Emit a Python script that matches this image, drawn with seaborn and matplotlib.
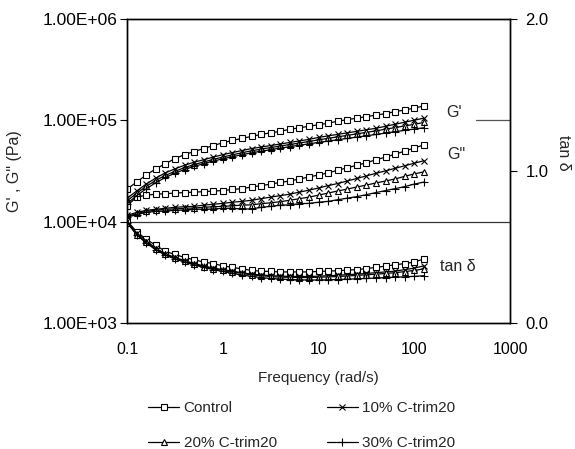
import matplotlib
matplotlib.use("Agg")
import matplotlib.pyplot as plt
import matplotlib.ticker as mticker
import seaborn as sns
import pandas as pd

sns.set_style("white")
plt.rcParams['font.family'] = ['Liberation Sans', 'DejaVu Sans']

freq = [0.1, 0.126, 0.158, 0.2, 0.251, 0.316, 0.398, 0.501, 0.631, 0.794,
        1.0, 1.26, 1.58, 2.0, 2.51, 3.16, 3.98, 5.01, 6.31, 7.94,
        10.0, 12.6, 15.8, 20.0, 25.1, 31.6, 39.8, 50.1, 63.1, 79.4, 100.0, 126.0]

series_names = ["Control", "10% C-trim20", "20% C-trim20", "30% C-trim20"]

g1_control = [20900, 24500, 28800, 33100, 37200, 41700, 45700, 49000, 52500, 56200,
              59800, 63100, 66100, 69200, 72400, 75000, 77600, 81300, 84100, 87100,
              90200, 93300, 97700, 101200, 104700, 108400, 112200, 116100, 121600, 125900, 131800, 138000]
g1_10 = [17000, 20000, 23400, 26900, 30200, 33100, 35900, 38500, 40700, 43200,
         45700, 47900, 50100, 52500, 54300, 56200, 58200, 60300, 62400, 64600,
         67600, 70000, 72400, 75000, 77600, 80400, 83200, 87100, 91200, 95500, 100000, 104700]
g1_20 = [16000, 19000, 22200, 25500, 28500, 31300, 34000, 36500, 38700, 41000,
         43300, 45500, 47700, 49900, 51800, 53700, 55600, 57500, 59500, 61600,
         64000, 66200, 68500, 70800, 73300, 75800, 78500, 81500, 84500, 87800, 91000, 95000]
g1_30 = [15000, 18000, 21000, 24200, 27200, 30000, 32600, 35000, 37200, 39400,
         41600, 43600, 45600, 47600, 49400, 51200, 53000, 54800, 56600, 58400,
         60300, 62200, 64100, 66100, 68100, 70200, 72300, 74600, 77000, 79400, 81800, 84200]

g2_control = [14300, 17400, 18200, 18600, 18800, 19100, 19300, 19500, 19700, 20000,
              20200, 20700, 21100, 21900, 22600, 23400, 24300, 25100, 26300, 27500,
              28800, 30200, 32000, 33900, 35900, 38000, 40700, 43200, 46200, 49500, 53100, 57100]
g2_10 = [11500, 12300, 12900, 13200, 13500, 13800, 14000, 14100, 14500, 14800,
         15100, 15500, 15800, 16200, 16800, 17400, 18000, 18600, 19500, 20400,
         21400, 22600, 23700, 25100, 26600, 28200, 29900, 31600, 33500, 35500, 37600, 39800]
g2_20 = [11200, 12000, 12600, 12900, 13200, 13300, 13500, 13600, 13800, 14000,
         14100, 14300, 14500, 14600, 15000, 15300, 15700, 16200, 16800, 17400,
         18200, 19100, 20000, 20900, 21900, 22900, 24000, 25100, 26300, 27900, 29500, 30900]
g2_30 = [11000, 11700, 12300, 12600, 12700, 12900, 13000, 13200, 13200, 13300,
         13500, 13500, 13300, 13300, 13800, 14100, 14500, 14600, 15000, 15100,
         15500, 15800, 16400, 17000, 17600, 18400, 19300, 20200, 21100, 22100, 23400, 24500]

tan_control = [0.67, 0.60, 0.55, 0.51, 0.47, 0.45, 0.43, 0.415, 0.40, 0.39,
               0.375, 0.365, 0.355, 0.345, 0.34, 0.338, 0.335, 0.335, 0.335, 0.335,
               0.338, 0.34, 0.343, 0.347, 0.35, 0.357, 0.365, 0.373, 0.382, 0.39, 0.40, 0.42]
tan_10 = [0.67, 0.59, 0.54, 0.49, 0.455, 0.43, 0.41, 0.39, 0.375, 0.36,
          0.35, 0.34, 0.33, 0.32, 0.315, 0.31, 0.308, 0.305, 0.305, 0.305,
          0.307, 0.31, 0.313, 0.317, 0.32, 0.325, 0.33, 0.335, 0.34, 0.35, 0.36, 0.375]
tan_20 = [0.66, 0.58, 0.53, 0.485, 0.45, 0.425, 0.405, 0.385, 0.37, 0.355,
          0.345, 0.335, 0.325, 0.315, 0.31, 0.305, 0.30, 0.30, 0.298, 0.298,
          0.30, 0.302, 0.305, 0.308, 0.312, 0.316, 0.32, 0.325, 0.33, 0.337, 0.345, 0.355]
tan_30 = [0.66, 0.58, 0.525, 0.48, 0.445, 0.42, 0.40, 0.38, 0.365, 0.35,
          0.338, 0.325, 0.315, 0.305, 0.298, 0.292, 0.288, 0.285, 0.283, 0.282,
          0.282, 0.283, 0.285, 0.287, 0.29, 0.292, 0.295, 0.298, 0.30, 0.303, 0.306, 0.31]

g1 = [g1_control, g1_10, g1_20, g1_30]
g2 = [g2_control, g2_10, g2_20, g2_30]
tan = [tan_control, tan_10, tan_20, tan_30]

marker_styles = [dict(marker='s', mfc='white', ms=4.2),
                 dict(marker='x', ms=5),
                 dict(marker='^', mfc='white', ms=4.5),
                 dict(marker='+', ms=6)]

fig = plt.figure(figsize=(5.75, 4.49), dpi=100)
ax = fig.add_axes([0.221, 0.281, 0.666, 0.677])
ax2 = ax.twinx()

ax.axhline(1e4, color='#333333', lw=0.9, zorder=1)
ax.plot([440, 1000], [1e5, 1e5], color='#555555', lw=0.9, zorder=1)

handles = []
for i, name in enumerate(series_names):
    ms = marker_styles[i]
    kw = dict(color='black', mec='black', mew=0.8, lw=0.9, **ms)
    d1 = pd.DataFrame({'f': freq, 'v': g1[i]})
    d2 = pd.DataFrame({'f': freq, 'v': g2[i]})
    d3 = pd.DataFrame({'f': freq, 'v': tan[i]})
    sns.lineplot(data=d1, x='f', y='v', ax=ax, legend=False, **kw)
    sns.lineplot(data=d2, x='f', y='v', ax=ax, legend=False, **kw)
    sns.lineplot(data=d3, x='f', y='v', ax=ax2, legend=False, **kw)
    h, = ax.plot([], [], label=name, **kw)
    handles.append(h)

ax.set_xscale('log')
ax.set_yscale('log')
ax.set_xlim(0.1, 1000)
ax.set_ylim(1e3, 1e6)
ax2.set_ylim(0, 2)

ax.set_xticks([0.1, 1, 10, 100, 1000])
ax.xaxis.set_major_formatter(mticker.FixedFormatter(['0.1', '1', '10', '100', '1000']))
ax.xaxis.set_minor_locator(mticker.NullLocator())
ax.set_yticks([1e3, 1e4, 1e5, 1e6])
ax.yaxis.set_major_formatter(mticker.FixedFormatter(['1.00E+03', '1.00E+04', '1.00E+05', '1.00E+06']))
ax.yaxis.set_minor_locator(mticker.NullLocator())
ax2.set_yticks([0.0, 1.0, 2.0])
ax2.yaxis.set_major_formatter(mticker.FormatStrFormatter('%.1f'))

ax.tick_params(axis='x', direction='in', length=2, width=0.8, labelsize=11.5, pad=14, colors='black')
ax.tick_params(axis='y', direction='out', length=5, width=0.8, labelsize=12.5, pad=2, colors='black')
ax2.tick_params(axis='y', direction='out', length=5, width=0.8, labelsize=12, pad=6, colors='black')

for a in (ax, ax2):
    for s in a.spines.values():
        s.set_color('black')
        s.set_linewidth(1.0)

ax.set_xlabel('Frequency (rad/s)', fontsize=11, labelpad=10)
ax.set_ylabel('G\' , G" (Pa)', fontsize=11.5)
ax.yaxis.set_label_coords(-0.275, 0.5)
ax2.set_ylabel('tan δ', fontsize=11.5, rotation=270, va='center')
ax2.yaxis.set_label_coords(1.14, 0.56)

ax.text(214, 1.2e5, "G'", fontsize=11.5, va='center', ha='left')
ax.text(222, 4.6e4, 'G"', fontsize=11.5, va='center', ha='left')
ax2.text(185, 0.37, 'tan δ', fontsize=11.5, va='center', ha='left')

order = [0, 2, 1, 3]
fig.legend([handles[j] for j in order], [series_names[j] for j in order],
           ncol=2, loc='center', bbox_to_anchor=(0.525, 0.052), frameon=False,
           fontsize=11, handlelength=2.0, handletextpad=0.3, columnspacing=3.3,
           labelspacing=1.35)

fig.savefig('out.png', dpi=100)
